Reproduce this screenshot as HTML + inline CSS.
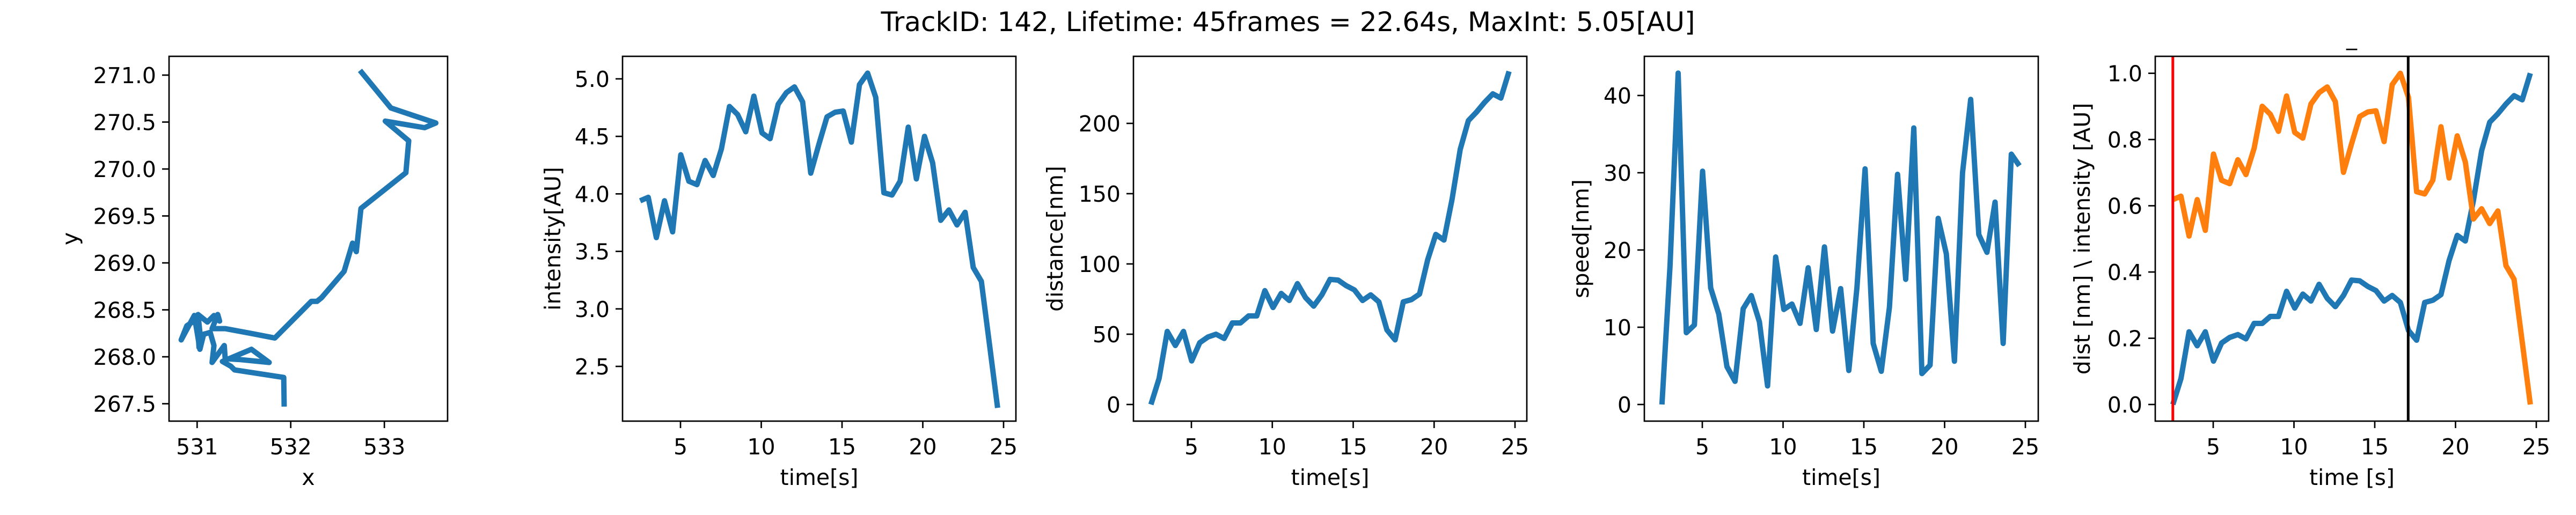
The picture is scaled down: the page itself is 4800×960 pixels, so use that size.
<!DOCTYPE html>
<html><head><meta charset="utf-8">
<style>
html,body{margin:0;padding:0;background:#fff;}
svg{display:block;}
text{font-family:"DejaVu Sans","Liberation Sans",sans-serif;fill:#000;}
</style></head>
<body>
<svg id="fig" width="4800" height="960" viewBox="0 0 4800 960" xmlns="http://www.w3.org/2000/svg">
<rect width="4800" height="960" fill="#fff"/>
<text x="2400" y="58" font-size="50" text-anchor="middle" textLength="1517" lengthAdjust="spacingAndGlyphs">TrackID: 142, Lifetime: 45frames = 22.64s, MaxInt: 5.05[AU]</text>
<text x="4382" y="84" font-size="40" text-anchor="middle">_</text>
</svg>
<script>
// ---- data ----
const trajX = [531.93,531.925,531.40,531.36,531.27,531.58,531.77,531.46,531.30,531.29,531.16,531.18,531.14,531.07,531.03,530.97,530.83,530.89,530.95,531.00,531.02,531.03,531.01,531.11,531.18,531.24,531.22,531.16,531.30,531.57,531.83,532.22,532.28,532.33,532.57,532.66,532.70,532.75,533.23,533.26,533.01,533.43,533.55,533.07,532.74];
const trajY = [267.47,267.78,267.86,267.90,267.95,268.08,267.94,267.97,267.98,268.12,267.94,268.12,268.26,268.24,268.08,268.44,268.18,268.33,268.37,268.43,268.10,268.26,268.45,268.37,268.44,268.38,268.45,268.30,268.30,268.25,268.20,268.59,268.59,268.63,268.91,269.21,269.12,269.58,269.96,270.30,270.51,270.44,270.49,270.65,271.05];
const frameStart = 2.5;
const frameDt = 0.503;
const intensity = [3.94,3.97,3.62,3.94,3.67,4.34,4.11,4.08,4.29,4.16,4.39,4.76,4.69,4.54,4.85,4.53,4.48,4.78,4.88,4.93,4.80,4.18,4.43,4.67,4.71,4.72,4.45,4.95,5.05,4.84,4.01,3.99,4.11,4.58,4.13,4.50,4.27,3.77,3.86,3.73,3.84,3.36,3.24,2.69,2.14];
const distance = [0,18.5,52,42,52,31,44,48,50,47,58,58,63,63,81,69,79,74,86,76,70,78,89,88.5,84.5,81.5,74,78,73,53,46,73,74.6,78.6,103,121,117,146,181.5,202,208,215,221,218,237];
const speed = [0,18,42.9,9.3,10.3,30.2,15.1,11.7,4.9,3.0,12.4,14.1,10.7,2.4,19.1,12.3,13.0,10.5,17.7,9.7,20.4,9.5,15.0,4.4,15.1,30.5,7.9,4.3,12.6,29.8,16.2,35.8,4.0,5.1,24.1,19.5,5.6,30.0,39.5,22.0,19.7,26.2,7.9,32.4,30.9];
const markerStart = 2.5;
const markerEnd = 17.07;
const trajXTicks = [531,532,533];
const trajYTicks = [267.5,268.0,268.5,269.0,269.5,270.0,270.5,271.0];
const timeTicks = [5,10,15,20,25];
const intTicks = [2.5,3.0,3.5,4.0,4.5,5.0];
const distTicks = [0,50,100,150,200];
const speedTicks = [0,10,20,30,40];
const normTicks = [0.0,0.2,0.4,0.6,0.8,1.0];

const times = intensity.map((_, i) => frameStart + i * frameDt);
const NS = "http://www.w3.org/2000/svg";
const svg = document.getElementById('fig');
function el(tag, attrs, parent) {
  const e = document.createElementNS(NS, tag);
  for (const k in attrs) e.setAttribute(k, attrs[k]);
  (parent || svg).appendChild(e);
  return e;
}
function lin(d0, d1, r0, r1) { return v => r0 + (v - d0) * (r1 - r0) / (d1 - d0); }

function panel(cfg) {
  const g = el('g', {});
  
  
  const clipId = cfg.name + '-clip';
  const cp = el('clipPath', {id: clipId}, g);
  el('rect', {x: cfg.l, y: cfg.t, width: cfg.r - cfg.l, height: cfg.b - cfg.t}, cp);
  const plot = el('g', {'clip-path': 'url(#' + clipId + ')'}, g);
  cfg.draw(plot);
  // frame
  const fr = el('rect', {x: cfg.l, y: cfg.t, width: cfg.r - cfg.l, height: cfg.b - cfg.t, fill: 'none', stroke: '#000', 'stroke-width': 2.7}, g);
  
  
  // x ticks
  cfg.xt.forEach(v => {
    const x = cfg.sx(v);
    el('line', {x1: x, x2: x, y1: cfg.b, y2: cfg.b + 13, stroke: '#000', 'stroke-width': 2.7}, g);
    const tx = el('text', {x: x, y: 847, 'font-size': 41, 'text-anchor': 'middle'}, g);
    
    
    tx.textContent = cfg.xf ? cfg.xf(v) : String(v);
  });
  cfg.yt.forEach(v => {
    const y = cfg.sy(v);
    el('line', {x1: cfg.l - 13, x2: cfg.l, y1: y, y2: y, stroke: '#000', 'stroke-width': 2.7}, g);
    const ty = el('text', {x: cfg.l - 24, y: y + 15, 'font-size': 41, 'text-anchor': 'end'}, g);
    
    
    ty.textContent = cfg.yf(v);
  });
  const xl = el('text', {x: (cfg.l + cfg.r) / 2, y: 904, 'font-size': 41, 'text-anchor': 'middle'}, g);
  
  
  xl.textContent = cfg.xlabel;
  const cy = (cfg.t + cfg.b) / 2;
  const yl = el('text', {x: cfg.ylx, y: cy, 'font-size': 41, 'text-anchor': 'middle', 'dominant-baseline': 'central', transform: 'rotate(-90 ' + cfg.ylx + ' ' + cy + ')'}, g);
  
  
  yl.textContent = cfg.ylabel;
}
function poly(parent, xs, ys, sx, sy, color, name) {
  const pts = xs.map((x, i) => sx(x).toFixed(1) + ',' + sy(ys[i]).toFixed(1)).join(' ');
  const p = el('polyline', {points: pts, fill: 'none', stroke: color, 'stroke-width': 10, 'stroke-linejoin': 'round'}, parent);
  
  
}
const f1 = v => v.toFixed(1);
const f0 = v => String(Math.round(v));

// panel 1: trajectory
{
  const sx = lin(531, 533, 367.3, 716.2);
  const sy = lin(267.5, 271.0, 752.6, 140);
  panel({name: 'trajectory-panel', l: 315, r: 834, t: 105, b: 785, sx, sy, xt: trajXTicks, yt: trajYTicks, yf: f1, xlabel: 'x', ylabel: 'y', ylx: 131,
    draw: g => poly(g, trajX, trajY, sx, sy, '#1f77b4', 'trajectory-line')});
}
// panel 2: intensity
{
  const sx = lin(5, 25, 1268, 1870);
  const sy = lin(2.5, 5.0, 683, 147);
  panel({name: 'intensity-panel', l: 1160, r: 1893, t: 105, b: 785, sx, sy, xt: timeTicks, yt: intTicks, yf: f1, xlabel: 'time[s]', ylabel: 'intensity[AU]', ylx: 1030,
    draw: g => poly(g, times, intensity, sx, sy, '#1f77b4', 'intensity-line')});
}
// panel 3: distance
{
  const sx = lin(5, 25, 2220, 2823);
  const sy = lin(0, 200, 754, 230);
  panel({name: 'distance-panel', l: 2112, r: 2845, t: 105, b: 785, sx, sy, xt: timeTicks, yt: distTicks, yf: f0, xlabel: 'time[s]', ylabel: 'distance[nm]', ylx: 1966,
    draw: g => poly(g, times, distance, sx, sy, '#1f77b4', 'distance-line')});
}
// panel 4: speed
{
  const sx = lin(5, 25, 3172, 3774);
  const sy = lin(0, 40, 754, 178);
  panel({name: 'speed-panel', l: 3064, r: 3798, t: 105, b: 785, sx, sy, xt: timeTicks, yt: speedTicks, yf: f0, xlabel: 'time[s]', ylabel: 'speed[nm]', ylx: 2946,
    draw: g => poly(g, times, speed, sx, sy, '#1f77b4', 'speed-line')});
}
// panel 5: normalized
{
  const sx = lin(5, 25, 4124, 4726);
  const sy = lin(0, 1, 754, 136.6);
  const norm = a => { const mn = Math.min(...a), mx = Math.max(...a); return a.map(v => (v - mn) / (mx - mn)); };
  const nd = norm(distance), ni = norm(intensity);
  panel({name: 'normalized-panel', l: 4016, r: 4749, t: 105, b: 785, sx, sy, xt: timeTicks, yt: normTicks, yf: f1, xlabel: 'time [s]', ylabel: 'dist [nm] \\ intensity [AU]', ylx: 3880,
    draw: g => {
      poly(g, times, nd, sx, sy, '#1f77b4', 'normalized-distance-line');
      poly(g, times, ni, sx, sy, '#ff7f0e', 'normalized-intensity-line');
      const r = el('line', {x1: sx(markerStart), x2: sx(markerStart), y1: 105, y2: 785, stroke: '#ff0000', 'stroke-width': 5}, g);
      
      
      const k = el('line', {x1: sx(markerEnd), x2: sx(markerEnd), y1: 105, y2: 785, stroke: '#000', 'stroke-width': 5}, g);
      
      
    }});
}
</script>
</body></html>
